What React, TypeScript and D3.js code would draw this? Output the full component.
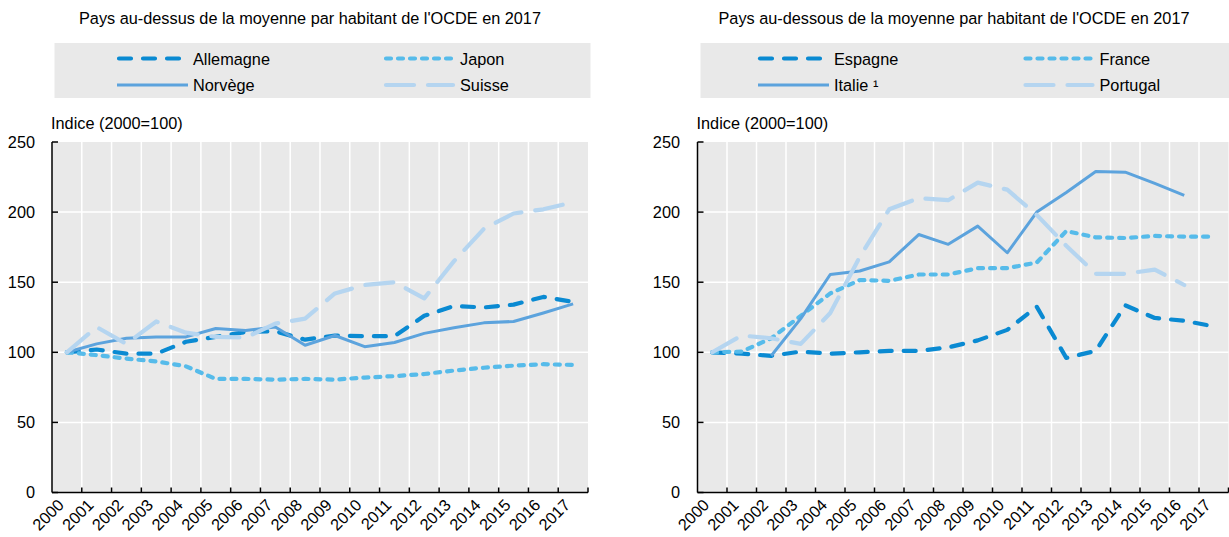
import React, { useRef, useEffect } from 'react'
import * as d3 from 'd3'

// years on the x axis
const years = ['2000', '2001', '2002', '2003', '2004', '2005', '2006', '2007', '2008',
    '2009', '2010', '2011', '2012', '2013', '2014', '2015', '2016', '2017']
const yTicks = [0, 50, 100, 150, 200, 250]

const leftTitle = "Pays au-dessus de la moyenne par habitant de l'OCDE en 2017"
const rightTitle = "Pays au-dessous de la moyenne par habitant de l'OCDE en 2017"
const yLabel = 'Indice (2000=100)'

// left panel
const leftNames = ['Allemagne', 'Japon', 'Norvège', 'Suisse']
const allemagne = [100, 102, 99, 99, 107.5, 111, 114.5, 115, 109, 112, 111.5, 111.5, 126, 133, 132, 134, 139.5, 136]
const japon = [100, 98, 95.5, 93.5, 90, 81, 81, 80.5, 81, 80.5, 82, 83, 84.5, 87, 89, 90.5, 91.5, 91]
const norvege = [100, 106, 110, 111, 111, 117, 115.5, 118, 105, 112, 104, 107, 113.5, 117.5, 121, 122, 128, 134.5]
const suisse = [100, 118, 106, 122, 114, 111, 110.5, 120.5, 124, 142, 148, 150, 138.5, 165, 188, 199, 202, 207]

// right panel
const rightNames = ['Espagne', 'France', 'Italie ¹', 'Portugal']
const espagne = [100, 99, 97.5, 100.5, 99, 100, 101, 101, 103.5, 108.5, 116, 132.5, 96, 101, 133.5, 124.5, 122.5, 118.5]
const france = [100, 100.5, 110, 126, 142, 151.5, 151, 155.5, 155.5, 160, 160, 164, 186.5, 182, 181.5, 183, 182.5, 182.5]
const italie = [null, null, 97.5, 124, 155.5, 158, 164.5, 184, 177, 190, 171, 200, 214, 229, 228.5, 220.5, 212, null]
const portugal = [100, 112, 110, 106, 128, 168, 202, 210, 208.5, 221, 216, 198, 176, 156, 156, 159, 148, null]

const lineStyles = [
    { color: '#0a8ad2', width: 4.2, dash: '12,12', cap: 'round' },
    { color: '#56bbea', width: 4.2, dash: '5,7', cap: 'round' },
    { color: '#5ca3dd', width: 3, dash: null, cap: 'butt' },
    { color: '#b5d5f0', width: 4.2, dash: '28,14', cap: 'round' },
]

const FONT = '"Liberation Sans", Arial, sans-serif'
const FS = 16.3

const panels = [
    {
        title: leftTitle, titleX: 310, left: 52, right: 588, tickRight: 35,
        box: [54.5, 590.5], swatch: [117, 384],
        names: leftNames, series: [allemagne, japon, norvege, suisse]
    },
    {
        title: rightTitle, titleX: 954, left: 697.5, right: 1228.5, tickRight: 680,
        box: [700.5, 1229], swatch: [758, 1023.5],
        names: rightNames, series: [espagne, france, italie, portugal]
    },
]

const App = () => {
    const chartRef = useRef<SVGSVGElement | null>(null)

    useEffect(() => {
        document.body.style.margin = '0'
        const svg = d3.select(chartRef.current)
        svg.selectAll('*').remove()

        const y = d3.scaleLinear().domain([0, 250]).range([492.5, 142])

        panels.forEach(p => {
            const g = svg.append('g')
            const x = d3.scaleBand().domain(years).range([p.left, p.right])
            const cx = (yr: string) => (x(yr) as number) + x.bandwidth() / 2

            // title
            g.append('text')
                .attr('x', p.titleX).attr('y', 24)
                .attr('text-anchor', 'middle')
                .text(p.title)

            // legend
            g.append('rect')
                .attr('x', p.box[0]).attr('y', 43)
                .attr('width', p.box[1] - p.box[0]).attr('height', 55)
                .attr('fill', '#e9e9e9')
            p.names.forEach((name, i) => {
                const st = lineStyles[i]
                const sx = p.swatch[i % 2]
                const sy = i < 2 ? 58.5 : 85
                g.append('line')
                    .attr('x1', sx + (st.dash ? 2 : 0)).attr('x2', sx + 71 - (st.dash ? 2 : 0))
                    .attr('y1', sy).attr('y2', sy)
                    .attr('stroke', st.color).attr('stroke-width', st.width)
                    .attr('stroke-dasharray', st.dash)
                    .attr('stroke-linecap', st.cap)
                g.append('text')
                    .attr('x', sx + 76).attr('y', sy + 6)
                    .text(name)
            })

            g.append('text')
                .attr('x', p.left - 1).attr('y', 129)
                .text(yLabel)

            // plot background and grid
            g.append('rect')
                .attr('x', p.left).attr('y', y(250))
                .attr('width', p.right - p.left).attr('height', y(0) - y(250))
                .attr('fill', '#e9e9e9')
            years.slice(1).forEach(yr => {
                g.append('line')
                    .attr('x1', x(yr)).attr('x2', x(yr))
                    .attr('y1', y(250)).attr('y2', y(0))
                    .attr('stroke', '#fff').attr('stroke-width', 1.5)
            })
            yTicks.slice(1, -1).forEach(t => {
                g.append('line')
                    .attr('x1', p.left).attr('x2', p.right)
                    .attr('y1', y(t)).attr('y2', y(t))
                    .attr('stroke', '#fff').attr('stroke-width', 1.5)
            })

            // series
            p.series.forEach((data, i) => {
                const st = lineStyles[i]
                const line = d3.line<number | null>()
                    .defined(d => d != null)
                    .x((d, j) => cx(years[j]))
                    .y(d => y(d as number))
                g.append('path')
                    .datum(data)
                    .attr('fill', 'none')
                    .attr('stroke', st.color)
                    .attr('stroke-width', st.width)
                    .attr('stroke-dasharray', st.dash)
                    .attr('stroke-linecap', st.cap)
                    .attr('stroke-linejoin', 'round')
                    .attr('d', line)
            })

            // axes
            g.append('line')
                .attr('x1', p.left).attr('x2', p.left)
                .attr('y1', y(250)).attr('y2', y(0))
                .attr('stroke', '#000').attr('stroke-width', 1.5)
            g.append('line')
                .attr('x1', p.left).attr('x2', p.right)
                .attr('y1', y(0)).attr('y2', y(0))
                .attr('stroke', '#000').attr('stroke-width', 1.5)
            yTicks.forEach(t => {
                g.append('line')
                    .attr('x1', p.left).attr('x2', p.left + 6)
                    .attr('y1', y(t)).attr('y2', y(t))
                    .attr('stroke', '#000').attr('stroke-width', 1.5)
                g.append('text')
                    .attr('x', p.tickRight).attr('y', y(t))
                    .attr('dy', '0.35em')
                    .attr('text-anchor', 'end')
                    .text(t)
            })
            years.concat(['end']).forEach((yr, k) => {
                const xx = k < years.length ? (x(yr) as number) : p.right
                if (k === 0) return
                g.append('line')
                    .attr('x1', xx).attr('x2', xx)
                    .attr('y1', y(0)).attr('y2', y(0) - 5)
                    .attr('stroke', '#000').attr('stroke-width', 1.5)
            })
            years.forEach(yr => {
                g.append('text')
                    .attr('text-anchor', 'end')
                    .attr('transform', `translate(${cx(yr) - 2}, 506) rotate(-45)`)
                    .text(yr)
            })
        })

        svg.selectAll('text')
            .attr('font-family', FONT)
            .attr('font-size', FS)
            .attr('fill', '#000')
    }, [])

    return (
        <svg ref={chartRef} width={1229} height={537} style={{ display: 'block', background: '#fff' }}></svg>
    )
}

export default App
